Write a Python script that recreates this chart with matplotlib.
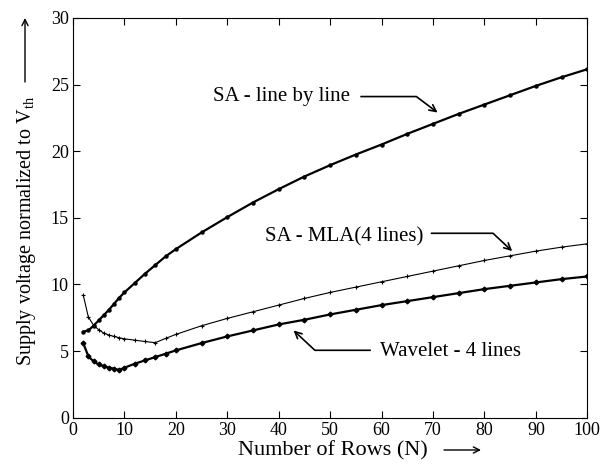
import matplotlib.pyplot as plt

# Dati
n_rows = [2, 3, 4, 5, 6, 7, 8, 9, 10, 12, 14, 16, 18, 20, 25, 30, 35, 40,
          45, 50, 55, 60, 65, 70, 75, 80, 85, 90, 95, 100]
sa_line = [6.45, 6.55, 6.9, 7.3, 7.7, 8.1, 8.55, 9.0, 9.4, 10.1, 10.8, 11.45,
           12.1, 12.65, 13.9, 15.05, 16.15, 17.15, 18.1, 18.95, 19.75, 20.5,
           21.3, 22.05, 22.8, 23.5, 24.2, 24.9, 25.55, 26.15]
sa_mla = [9.2, 7.55, 6.95, 6.6, 6.35, 6.2, 6.1, 6.0, 5.92, 5.82, 5.72, 5.63,
          5.95, 6.25, 6.9, 7.45, 7.95, 8.45, 8.95, 9.4, 9.8, 10.2, 10.6, 11.0,
          11.4, 11.8, 12.15, 12.5, 12.8, 13.05]
wavelet = [5.6, 4.6, 4.23, 4.0, 3.86, 3.76, 3.68, 3.58, 3.75, 4.05, 4.3, 4.55,
           4.8, 5.05, 5.6, 6.1, 6.55, 7.0, 7.35, 7.75, 8.1, 8.45, 8.75, 9.05,
           9.35, 9.65, 9.9, 10.15, 10.4, 10.6]

x_ticks = list(range(0, 101, 10))
y_ticks = list(range(0, 31, 5))

plt.rcParams["font.family"] = "Liberation Serif"
plt.rcParams["mathtext.fontset"] = "custom"
plt.rcParams["mathtext.rm"] = "Liberation Serif"
plt.rcParams["mathtext.it"] = "Liberation Serif:italic"

fig = plt.figure(figsize=(6.13, 4.72), dpi=100)
ax = fig.add_axes([0.119, 0.115, 0.839, 0.847])

ax.plot(n_rows, sa_line, color="black", lw=1.6, marker="o", ms=2.2)
ax.plot(n_rows, sa_mla, color="black", lw=0.8, marker="+", ms=3.5, mew=0.8)
ax.plot(n_rows, wavelet, color="black", lw=1.6, marker="D", ms=2.4)

ax.set_xlim(0, 100)
ax.set_ylim(0, 30)
ax.set_xticks(x_ticks)
ax.set_yticks(y_ticks)
ax.tick_params(direction="in", length=5, width=0.8, labelsize=13,
               top=True, right=True, pad=3)
for s in ax.spines.values():
    s.set_linewidth(0.8)

# Etichette curve con frecce spezzate
arrow = dict(arrowstyle="->", color="black", lw=1.2, mutation_scale=12,
             shrinkA=0, shrinkB=0)
labels = [("SA - line by line", (27.3, 23.78), (56.0, 24.1), (70.9, 22.9), -37),
          ("SA - MLA(4 lines)", (37.4, 13.24), (69.7, 13.84), (85.4, 12.5), -43),
          ("Wavelet - 4 lines", (59.7, 4.63), (57.8, 5.06), (42.9, 6.55), 137)]
for text, pos, start, tip, ang in labels:
    ax.text(pos[0], pos[1], text, fontsize=15, va="baseline", ha="left")
    a = dict(arrow)
    a["connectionstyle"] = f"angle,angleA=0,angleB={ang},rad=0"
    ax.annotate("", xy=tip, xytext=start, arrowprops=a)

# Titoli assi con freccia
fig.text(238 / 613, 1 - 455 / 472, "Number of Rows (N)", fontsize=16,
         ha="left", va="baseline")
fig.text(27 / 613, 1 - 231 / 472, r"Supply voltage normalized to $\mathrm{V_{th}}$",
         fontsize=14.5, rotation=90, ha="center", va="center")
fig_arrow = dict(arrowstyle="->", color="black", lw=1.0, mutation_scale=11,
                 shrinkA=0, shrinkB=0)
ax.annotate("", xy=(481 / 613, 1 - 450 / 472), xytext=(444 / 613, 1 - 450 / 472),
            xycoords="figure fraction", textcoords="figure fraction",
            arrowprops=fig_arrow, annotation_clip=False)
ax.annotate("", xy=(25 / 613, 1 - 18 / 472), xytext=(25 / 613, 1 - 82 / 472),
            xycoords="figure fraction", textcoords="figure fraction",
            arrowprops=fig_arrow, annotation_clip=False)

fig.savefig("out.png", dpi=100)
